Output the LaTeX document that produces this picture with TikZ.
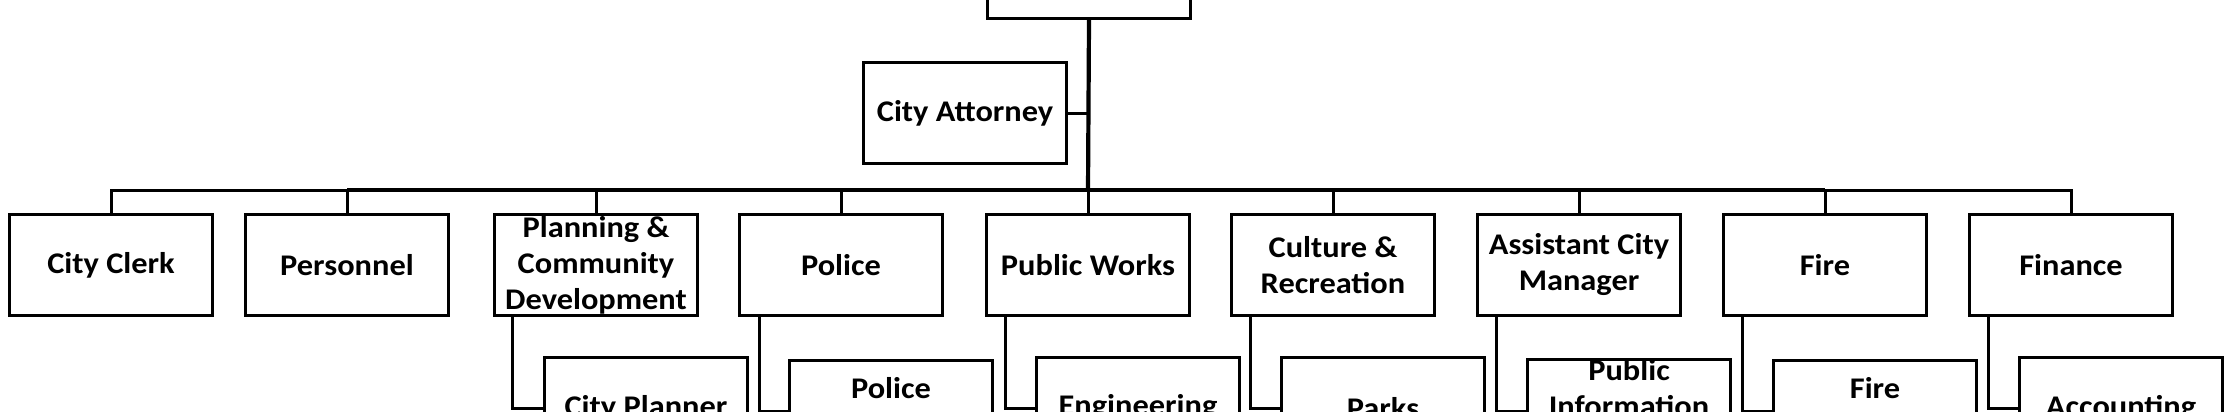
\documentclass[tikz,border=0pt]{standalone}
\usepackage{fontspec}
\setmainfont{Carlito}[FakeStretch=1.08]
\begin{document}
\begin{tikzpicture}[x=1pt,y=-1pt,
  box/.style={draw=black,line width=3pt,fill=white,minimum width=203pt,minimum height=101pt,inner sep=0pt,align=center,font=\fontsize{30}{36}\selectfont\bfseries},
  conn/.style={draw=black,line width=3pt},
  trunk/.style={draw=black,line width=4.2pt},
  thickbus/.style={draw=black,line width=4.6pt}]
\useasboundingbox (0,0) rectangle (2229,412);
\clip (0,0) rectangle (2229,412);
\coordinate (bus) at (1088,190);
% nodes
\node[box] (mgr) at (1089,-32) {};
\node[box] (att) at (965,113) {City Attorney};
\node[box] (clerk) at (111,265) {City Clerk};
\node[box] (pers) at (347,265) {Personnel};
\node[box] (plan) at (596,265) {Planning \&\\Community\\Development};
\node[box] (pol) at (841,265) {Police};
\node[box] (pw) at (1088,265) {Public Works};
\node[box] (cult) at (1333,265) {Culture \&\\Recreation};
\node[box] (asst) at (1579,265) {Assistant City\\Manager};
\node[box] (fire) at (1825,265) {Fire};
\node[box] (fin) at (2071,265) {Finance};
% sub boxes
\node[box] (planS) at (646,408) {\raisebox{-3pt}{City Planner}};
\node[box] (polS) at (891,411) {Police\\\strut};
\node[box] (pwS) at (1138,408) {\raisebox{-3pt}{Engineering}};
\node[box] (cultS) at (1383,408) {\raisebox{-3pt}{Parks}};
\node[box] (asstS) at (1629,411) {Public\\Information\\\strut};
\node[box] (fireS) at (1875,411) {Fire\\\strut};
\node[box] (finS) at (2121,408) {\raisebox{-3pt}{Accounting}};
% connectors
\draw[trunk] (mgr.south) -- (bus);
\draw[conn] (att.east) -- (att.east -| bus);
\foreach \n in {clerk,pers,plan,pol,pw,cult,asst,fire,fin}
  \draw[conn] (\n.north) |- (bus);
\draw[thickbus] (pers.north |- bus) -- (fire.north |- bus);
\draw[conn] ([xshift=19pt]plan.south west) |- (planS.west);
\draw[conn] ([xshift=21pt]pol.south west) |- (polS.west);
\draw[conn] ([xshift=20pt]pw.south west) |- (pwS.west);
\draw[conn] ([xshift=20pt]cult.south west) |- (cultS.west);
\draw[conn] ([xshift=20pt]asst.south west) |- (asstS.west);
\draw[conn] ([xshift=20pt]fire.south west) |- (fireS.west);
\draw[conn] ([xshift=20pt]fin.south west) |- (finS.west);
\end{tikzpicture}
\end{document}
